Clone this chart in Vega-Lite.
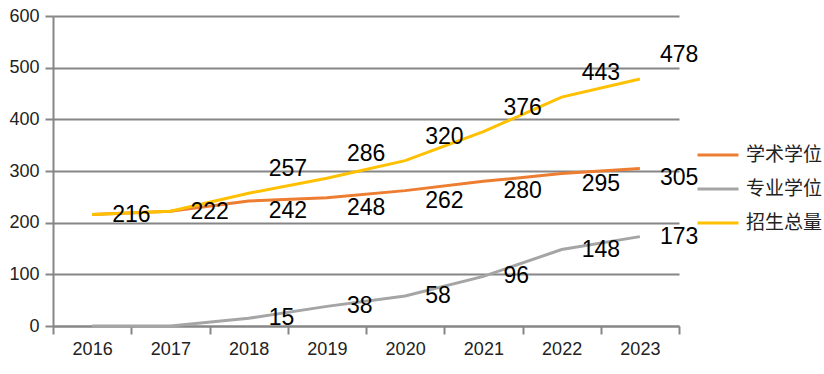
{
  "$schema": "https://vega.github.io/schema/vega-lite/v6.json",
  "width": 626,
  "height": 310,
  "autosize": {"type": "none"},
  "padding": {"left": 53, "top": 16, "right": 145, "bottom": 48},
  "background": "white",
  "config": {
    "view": {"stroke": null},
    "font": "Liberation Sans, Noto Sans CJK SC"
  },
  "data": {
    "values": [
      {"year": "2016", "series": "学术学位", "value": 216},
      {"year": "2017", "series": "学术学位", "value": 222},
      {"year": "2018", "series": "学术学位", "value": 242},
      {"year": "2019", "series": "学术学位", "value": 248},
      {"year": "2020", "series": "学术学位", "value": 262},
      {"year": "2021", "series": "学术学位", "value": 280},
      {"year": "2022", "series": "学术学位", "value": 295},
      {"year": "2023", "series": "学术学位", "value": 305},
      {"year": "2016", "series": "专业学位", "value": 0},
      {"year": "2017", "series": "专业学位", "value": 0},
      {"year": "2018", "series": "专业学位", "value": 15},
      {"year": "2019", "series": "专业学位", "value": 38},
      {"year": "2020", "series": "专业学位", "value": 58},
      {"year": "2021", "series": "专业学位", "value": 96},
      {"year": "2022", "series": "专业学位", "value": 148},
      {"year": "2023", "series": "专业学位", "value": 173},
      {"year": "2016", "series": "招生总量", "value": 216},
      {"year": "2017", "series": "招生总量", "value": 222},
      {"year": "2018", "series": "招生总量", "value": 257},
      {"year": "2019", "series": "招生总量", "value": 286},
      {"year": "2020", "series": "招生总量", "value": 320},
      {"year": "2021", "series": "招生总量", "value": 376},
      {"year": "2022", "series": "招生总量", "value": 443},
      {"year": "2023", "series": "招生总量", "value": 478}
    ]
  },
  "encoding": {
    "x": {
      "field": "year", "type": "ordinal",
      "scale": {"type": "band", "paddingInner": 0, "paddingOuter": 0},
      "axis": {
        "title": null, "labelAngle": 0, "tickBand": "extent",
        "domainColor": "#868686", "domainWidth": 2, "tickColor": "#868686", "tickWidth": 2,
        "tickSize": 8, "labelFontSize": 18, "labelColor": "#222222", "labelPadding": 6
      }
    },
    "y": {
      "field": "value", "type": "quantitative",
      "scale": {"domain": [0, 600], "nice": false},
      "axis": {
        "title": null, "values": [0, 100, 200, 300, 400, 500, 600],
        "domainColor": "#868686", "domainWidth": 2, "tickColor": "#868686", "tickWidth": 2,
        "tickSize": 8, "gridColor": "#868686", "gridWidth": 2,
        "labelFontSize": 18, "labelColor": "#222222", "labelPadding": 6
      }
    }
  },
  "layer": [
    {
      "mark": {"type": "line", "strokeWidth": 3, "interpolate": "linear"},
      "encoding": {
        "color": {
          "field": "series", "type": "nominal",
          "scale": {"domain": ["学术学位", "专业学位", "招生总量"], "range": ["#ED7D31", "#A5A5A5", "#FFC000"]},
          "legend": {
            "title": null, "orient": "none", "legendX": 643, "legendY": 117,
            "symbolType": "stroke", "symbolSize": 1681, "symbolStrokeWidth": 3,
            "labelFontSize": 19, "labelFont": "Noto Sans CJK SC", "labelColor": "#222222",
            "labelOffset": 6, "padding": 0, "labelLimit": 200
          }
        }
      }
    },
    {
      "transform": [{"filter": "datum.series == '专业学位' && datum.value > 0"}],
      "mark": {"type": "text", "align": "left", "baseline": "middle", "dx": 20, "dy": 0, "fontSize": 23, "color": "#000000"},
      "encoding": {"text": {"field": "value", "type": "quantitative"}}
    },
    {
      "transform": [{"filter": "datum.series == '学术学位' && datum.year >= '2018'"}],
      "mark": {"type": "text", "align": "left", "baseline": "middle", "dx": 20, "dy": 10, "fontSize": 23, "color": "#000000"},
      "encoding": {"text": {"field": "value", "type": "quantitative"}}
    },
    {
      "transform": [{"filter": "datum.series == '招生总量' && datum.year >= '2018'"}],
      "mark": {"type": "text", "align": "left", "baseline": "middle", "dx": 20, "dy": -24, "fontSize": 23, "color": "#000000"},
      "encoding": {"text": {"field": "value", "type": "quantitative"}}
    },
    {
      "transform": [{"filter": "datum.series == '招生总量' && datum.year < '2018'"}],
      "mark": {"type": "text", "align": "left", "baseline": "middle", "dx": 20, "dy": 1, "fontSize": 23, "color": "#000000"},
      "encoding": {"text": {"field": "value", "type": "quantitative"}}
    }
  ]
}
